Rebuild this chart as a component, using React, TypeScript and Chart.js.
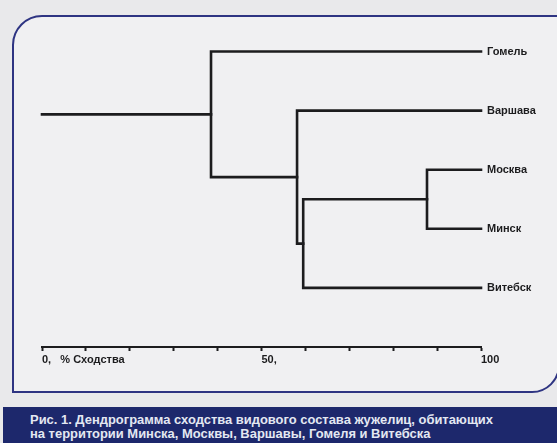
import React, { useEffect, useLayoutEffect, useRef } from 'react';
import { Chart, registerables } from 'chart.js';

Chart.register(...registerables);

// ---- data ----
const leafNames = ['Гомель', 'Варшава', 'Москва', 'Минск', 'Витебск'];
// linkage: new clusters get ids 5, 6, 7, 8 in order
const mergeLeft = [2, 5, 1, 0];
const mergeRight = [3, 4, 6, 7];
const mergeSimilarity = [87.7, 59.5, 58.1, 38.5];
const rootStart = 0;
const leafSimilarity = 100;
const tickValues = [0, 50, 100];
const tickLabels = ['0,   % Сходства', '50,', '100'];
const captionLines = [
  'Рис. 1. Дендрограмма сходства видового состава жужелиц, обитающих',
  'на территории Минска, Москвы, Варшавы, Гомеля и Витебска',
];

const INK = '#1c1c1e';
const FONT = '"Liberation Sans", Arial, sans-serif';

function buildDatasets() {
  const xs: number[] = leafNames.map(() => leafSimilarity);
  const ys: number[] = leafNames.map((_, i) => i);
  const sets: any[] = [];
  mergeLeft.forEach((l, k) => {
    const r = mergeRight[k];
    const m = mergeSimilarity[k];
    sets.push({
      data: [
        { x: xs[l], y: ys[l] },
        { x: m, y: ys[l] },
        { x: m, y: ys[r] },
        { x: xs[r], y: ys[r] },
      ],
    });
    xs.push(m);
    ys.push((ys[l] + ys[r]) / 2);
  });
  const top = xs.length - 1;
  sets.push({ data: [{ x: rootStart, y: ys[top] }, { x: xs[top], y: ys[top] }] });
  return sets.map((s) => ({
    ...s,
    showLine: true,
    borderColor: INK,
    borderWidth: 2.6,
    pointRadius: 0,
    fill: false,
    tension: 0,
    borderJoinStyle: 'miter',
    borderCapStyle: 'square',
    clip: false,
  }));
}

const leafLabelPlugin = {
  id: 'leafLabels',
  afterDatasetsDraw(chart: any) {
    const { ctx, scales } = chart;
    const x = scales.x;
    const y = scales.y;
    ctx.save();
    ctx.font = `bold 11px ${FONT}`;
    ctx.fillStyle = INK;
    ctx.textBaseline = 'middle';
    ctx.textAlign = 'left';
    leafNames.forEach((name, i) => {
      ctx.fillText(name, x.getPixelForValue(leafSimilarity) + 6, y.getPixelForValue(i));
    });
    ctx.restore();
  },
};

export default function App() {
  const canvasRef = useRef<HTMLCanvasElement>(null);
  const capRefs = useRef<(HTMLSpanElement | null)[]>([]);

  useEffect(() => {
    const canvas = canvasRef.current;
    if (!canvas) return;
    const chart = new Chart(canvas, {
      type: 'scatter',
      data: { datasets: buildDatasets() },
      plugins: [leafLabelPlugin],
      options: {
        animation: false,
        responsive: false,
        devicePixelRatio: 1,
        events: [],
        layout: { padding: { left: 42, right: 76, top: 22, bottom: 13 } },
        plugins: { legend: { display: false }, tooltip: { enabled: false } },
        scales: {
          x: {
            type: 'linear',
            position: 'bottom',
            min: 0,
            max: 100,
            border: { display: true, color: INK, width: 2 },
            grid: {
              display: true,
              drawOnChartArea: false,
              drawTicks: true,
              tickLength: 4,
              tickWidth: 2,
              tickColor: INK,
            },
            ticks: {
              stepSize: 10,
              autoSkip: false,
              maxRotation: 0,
              minRotation: 0,
              align: 'start',
              padding: 2,
              color: INK,
              font: { family: FONT, size: 11, weight: 'bold' },
              callback: (v: any) => {
                const i = tickValues.indexOf(Math.round(Number(v)));
                return i >= 0 ? tickLabels[i] : '';
              },
            },
            afterFit: (s: any) => {
              s.height = 40;
              s.paddingLeft = 0;
              s.paddingRight = 0;
            },
          },
          y: {
            type: 'linear',
            min: -0.5,
            max: 5,
            reverse: true,
            display: false,
          },
        },
      } as any,
    });
    return () => chart.destroy();
  }, []);

  useLayoutEffect(() => {
    const first = capRefs.current[0];
    if (!first) return;
    first.style.transform = 'none';
    const w = first.getBoundingClientRect().width;
    const k = w > 0 ? 463 / w : 1;
    capRefs.current.forEach((el) => {
      if (el) el.style.transform = `scaleX(${k})`;
    });
  }, []);

  return (
    <div
      style={{
        position: 'fixed',
        left: 0,
        top: 0,
        width: 557,
        height: 443,
        overflow: 'hidden',
        background: '#e9e9eb',
      }}
    >
      <div
        style={{
          position: 'absolute',
          left: 12,
          top: 15,
          width: 548,
          height: 378,
          boxSizing: 'border-box',
          border: '2px solid #2e3482',
          borderTopLeftRadius: 30,
          borderBottomRightRadius: 28,
          background: '#f0f0f2',
        }}
      />
      <canvas
        ref={canvasRef}
        width={557}
        height={400}
        style={{ position: 'absolute', left: 0, top: 0, width: 557, height: 400 }}
      />
      <div
        style={{
          position: 'absolute',
          left: 3,
          top: 407,
          width: 560,
          height: 40,
          background: '#1d286c',
        }}
      >
        {captionLines.map((line, i) => (
          <span
            key={i}
            ref={(el) => {
              capRefs.current[i] = el;
            }}
            style={{
              position: 'absolute',
              left: 27,
              top: 6 + i * 14,
              whiteSpace: 'nowrap',
              transformOrigin: 'left center',
              font: `bold 13px "Liberation Sans Narrow", ${FONT}`,
              lineHeight: '14px',
              color: '#e4e8f2',
            }}
          >
            {line}
          </span>
        ))}
      </div>
    </div>
  );
}
